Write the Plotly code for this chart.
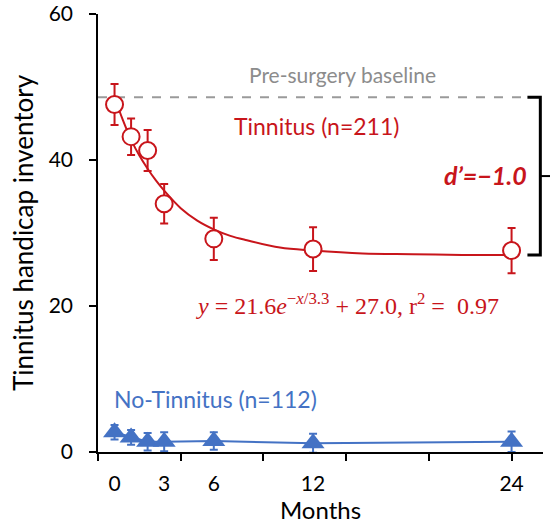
import plotly.graph_objects as go

# ---- data ----
months = [0, 1, 2, 3, 6, 12, 24]
tinnitus_mean = [47.6, 43.2, 41.3, 34.0, 29.2, 27.8, 27.6]
tinnitus_err = [2.8, 2.5, 2.8, 2.7, 2.9, 3.0, 3.1]
notinn_mean = [2.7, 2.0, 1.4, 1.4, 1.5, 1.2, 1.4]
notinn_err = [1.0, 1.0, 1.2, 1.3, 1.2, 1.3, 1.4]
fit_x = [0, 0.5, 1, 1.5, 2, 2.5, 3, 4, 5, 6, 7, 8, 10, 12, 15, 18, 21, 24]
fit_y = [48.6, 45.5, 42.8, 40.6, 38.8, 37.2, 35.8, 33.4, 31.7, 30.5, 29.6, 29.0, 28.0, 27.6, 27.2, 27.1, 27.0, 27.0]
baseline_val = 48.6
baseline_x = [-1, 25.2]
label_ticks = [0, 3, 6, 12, 24]
mark_ticks = [-1, 4, 9, 14, 19, 24]
y_ticks = [0, 20, 40, 60]

RED = "#C8151B"
BLUE = "#4472C4"
GRAY = "#8C8C8C"
FONT = "Lato"

fig = go.Figure()

fig.add_trace(go.Scatter(x=baseline_x, y=[baseline_val] * 2, mode="lines",
                         line=dict(color="#9A9A9A", width=2, dash="dash"),
                         hoverinfo="skip", showlegend=False))

fig.add_trace(go.Scatter(x=fit_x, y=fit_y, mode="lines", line_shape="spline",
                         line=dict(color=RED, width=2), showlegend=False))

fig.add_trace(go.Scatter(x=months, y=tinnitus_mean, mode="markers",
                         marker=dict(symbol="circle", size=17, color="white",
                                     line=dict(color=RED, width=2)),
                         error_y=dict(type="data", array=tinnitus_err, color=RED,
                                      thickness=2, width=4),
                         showlegend=False))

fig.add_trace(go.Scatter(x=months, y=notinn_mean, mode="lines+markers",
                         line=dict(color=BLUE, width=2),
                         marker=dict(symbol="triangle-up", size=20, color=BLUE),
                         error_y=dict(type="data", array=notinn_err, color=BLUE,
                                      thickness=2, width=4),
                         showlegend=False))

# annotations
fig.add_annotation(x=13.8, y=51.7, text="Pre-surgery baseline", showarrow=False,
                   font=dict(family=FONT, size=21, color=GRAY))
fig.add_annotation(x=12.2, y=44.7, text="Tinnitus (n=211)", showarrow=False,
                   font=dict(family=FONT, size=23, color=RED))
fig.add_annotation(x=22.4, y=38.0, text="<b><i>d’=−1.0</i></b>", showarrow=False,
                   font=dict(family=FONT, size=25, color=RED))
fig.add_annotation(x=14.1, y=20.3,
                   text="<i>y</i> = 21.6<i>e</i><sup>−<i>x</i>/3.3</sup> + 27.0, r<sup>2</sup> =  0.97",
                   showarrow=False,
                   font=dict(family="Liberation Serif", size=24, color=RED))
fig.add_annotation(x=6.1, y=7.2, text="No-Tinnitus (n=112)", showarrow=False,
                   font=dict(family=FONT, size=23, color=BLUE))

# bracket
xa, xb, xc = 0.965, 0.994, 1.02
y_top, y_bot = 48.6, 27.0
y_mid = (y_top + y_bot) / 2
fig.add_shape(type="path", xref="paper", yref="y",
              path=f"M {xa} {y_top} L {xb} {y_top} L {xb} {y_bot} L {xa} {y_bot}",
              line=dict(color="black", width=3))
fig.add_shape(type="line", xref="paper", yref="y", x0=xb, x1=xc, y0=y_mid, y1=y_mid,
              line=dict(color="black", width=2))

fig.update_layout(
    width=550, height=524,
    margin=dict(l=98, r=7, t=14, b=72),
    plot_bgcolor="white", paper_bgcolor="white",
    font=dict(family=FONT, size=21, color="black"),
    xaxis=dict(range=[-1, 25.9], tickmode="array", tickvals=label_ticks,
               ticktext=[str(v) for v in label_ticks], ticks="",
               showline=True, linecolor="black", linewidth=1.5,
               showgrid=False, zeroline=False, automargin=False,
               tickfont=dict(size=21), ticklabelstandoff=12,
               title=dict(text="Months", font=dict(size=24), standoff=2),
               minor=dict(tickmode="array", tickvals=mark_ticks, ticks="outside",
                          ticklen=7, tickwidth=1.5, tickcolor="black", showgrid=False)),
    yaxis=dict(range=[0, 60], tickmode="array", tickvals=y_ticks, ticks="outside",
               ticklen=7, tickwidth=1.5, tickcolor="black",
               showline=True, linecolor="black", linewidth=1.5,
               showgrid=False, zeroline=False, tickfont=dict(size=21),
               ticklabelstandoff=12, ticklabeloverflow="allow", automargin=False,
               title=dict(text="Tinnitus handicap inventory", font=dict(size=26), standoff=8)),
)

fig.write_html("out.html")
